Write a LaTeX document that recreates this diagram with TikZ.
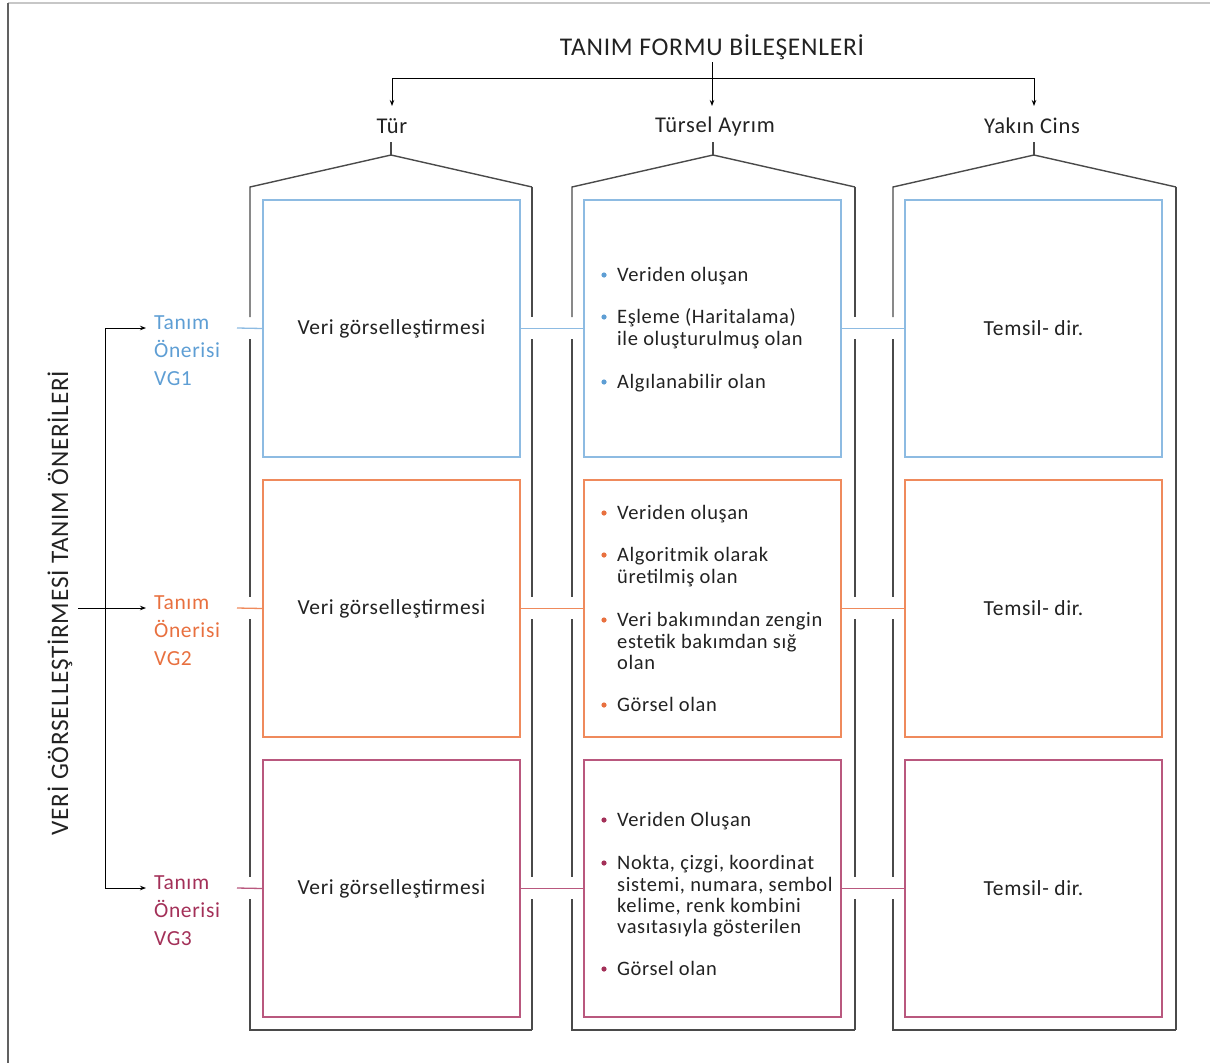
\documentclass[tikz,border=0pt]{standalone}
\usepackage{fontspec}
\setmainfont{Carlito}[LetterSpace=3]
\usetikzlibrary{arrows.meta}

\definecolor{inkc}{HTML}{222222}
\definecolor{brkc}{HTML}{4A4A4A}
\definecolor{bluebox}{HTML}{8DBBE2}
\definecolor{bluetxt}{HTML}{5E9ED4}
\definecolor{orabox}{HTML}{EF8A5C}
\definecolor{oratxt}{HTML}{E8703F}
\definecolor{marbox}{HTML}{B9587E}
\definecolor{martxt}{HTML}{A33058}

% one line of a bullet list: x, baseline y, name, text
\newcommand\listline[4]{\node[txt, anchor=base west] (#3) at (#1,#2) {#4};}
% bullet dot in front of a first line: baseline y, colour
\newcommand\listdot[2]{\fill[#2] (604,#1-6) circle (2.6pt);}

\begin{document}
\begin{tikzpicture}[x=1pt, y=-1pt,
  txt/.style={inner sep=0pt, font=\fontsize{20.5}{21.5}\selectfont, text=inkc},
  brk/.style={draw=brkc, line width=1.4pt},
  rowbox/.style={draw, line width=1.3pt, minimum width=257pt, minimum height=257pt,
    inner sep=0pt, font=\fontsize{21.5}{24}\selectfont, text=inkc},
  arr/.style={draw=black, line width=0.9pt, -{Stealth[length=6pt,width=4.5pt]}},
  plainline/.style={draw=black, line width=0.9pt},
  lbl/.style={inner sep=0pt, anchor=base west, font=\fontsize{21.5}{24}\selectfont},
  head/.style={inner sep=0pt, font=\fontsize{22.5}{26}\selectfont, text=inkc},
  conn/.style={line width=1.3pt}]
\useasboundingbox (0,0) rectangle (1210,1063);

% outer frame
\draw[draw=black!22, line width=1.6pt] (8,3) -- (1210,3);
\draw[draw=black!62, line width=1.6pt] (8,3) -- (8,1063);

% header and its three branches
\node[inner sep=0pt, font=\fontsize{25.5}{28}\selectfont, text=inkc] (title) at (712,47) {TANIM FORMU BİLEŞENLERİ};
\coordinate (hub) at (712,78);
\coordinate (hl) at (392,78);
\coordinate (hr) at (1034,78);
\coordinate (a1) at (392,106);
\coordinate (a2) at (712,106);
\coordinate (a3) at (1034,106);
\draw[plainline] (712,62) -- (hub);
\draw[plainline] (hl) -- (hr);
\draw[arr] (hl) -- (a1);
\draw[arr] (hub) -- (a2);
\draw[arr] (hr) -- (a3);
\node[head] (tur) at (392,126) {Tür};
\node[head] (tursel) at (715,126) {Türsel Ayrım};
\node[head] (yakin) at (1032,126) {Yakın Cins};

% column brackets (broken where the row connectors pass)
\draw[brk] (391,142) -- (391,155);
\draw[brk] (713,142) -- (713,155);
\draw[brk] (1034,142) -- (1034,155);
\foreach \L/\R/\P in {250/532/391, 572/855/713, 893/1176/1034}{
  \draw[brk] (\L,317) -- (\L,187) -- (\P,155) -- (\R,187);
  \draw[brk] (\L,339) -- (\L,597);
  \draw[brk] (\L,619) -- (\L,877);
  \draw[brk] (\L,899) -- (\L,1030) -- (\R,1030);
}
\foreach \R in {532, 855}{
  \draw[brk] (\R,187) -- (\R,317);
  \draw[brk] (\R,339) -- (\R,597);
  \draw[brk] (\R,619) -- (\R,877);
  \draw[brk] (\R,899) -- (\R,1030);
}
\draw[brk] (1176,187) -- (1176,1030);

% row boxes
\node[rowbox, draw=bluebox] (b11) at (391.5,328.5) {Veri görselleştirmesi};
\node[rowbox, draw=bluebox] (b12) at (712.5,328.5) {};
\node[rowbox, draw=bluebox] (b13) at (1033.5,328.5) {Temsil- dir.};
\node[rowbox, draw=orabox] (b21) at (391.5,608.5) {Veri görselleştirmesi};
\node[rowbox, draw=orabox] (b22) at (712.5,608.5) {};
\node[rowbox, draw=orabox] (b23) at (1033.5,608.5) {Temsil- dir.};
\node[rowbox, draw=marbox] (b31) at (391.5,888.5) {Veri görselleştirmesi};
\node[rowbox, draw=marbox] (b32) at (712.5,888.5) {};
\node[rowbox, draw=marbox] (b33) at (1033.5,888.5) {Temsil- dir.};

% bullet lists
\listdot{281}{bluetxt}\listline{617}{281}{l1a}{Veriden oluşan}
\listdot{323}{bluetxt}\listline{617}{323}{l1b}{Eşleme (Haritalama)}
\listline{617}{345}{l1c}{ile oluşturulmuş olan}
\listdot{388}{bluetxt}\listline{617}{388}{l1d}{Algılanabilir olan}

\listdot{519}{oratxt}\listline{617}{519}{l2a}{Veriden oluşan}
\listdot{561}{oratxt}\listline{617}{561}{l2b}{Algoritmik olarak}
\listline{617}{583}{l2c}{üretilmiş olan}
\listdot{626}{oratxt}\listline{617}{626}{l2d}{Veri bakımından zengin}
\listline{617}{648}{l2e}{estetik bakımdan sığ}
\listline{617}{669}{l2f}{olan}
\listdot{711}{oratxt}\listline{617}{711}{l2g}{Görsel olan}

\listdot{826}{martxt}\listline{617}{826}{l3a}{Veriden Oluşan}
\listdot{869}{martxt}\listline{617}{869}{l3b}{Nokta, çizgi, koordinat}
\listline{617}{891}{l3c}{sistemi, numara, sembol}
\listline{617}{912}{l3d}{kelime, renk kombini}
\listline{617}{933}{l3e}{vasıtasıyla gösterilen}
\listdot{975}{martxt}\listline{617}{975}{l3f}{Görsel olan}

% proposal labels
\node[lbl, text=bluetxt] (p1a) at (154,329) {Tanım};
\node[lbl, text=bluetxt] (p1b) at (154,357) {Önerisi};
\node[lbl, text=bluetxt] (p1c) at (154,385) {VG1};
\node[lbl, text=oratxt] (p2a) at (154,609) {Tanım};
\node[lbl, text=oratxt] (p2b) at (154,637) {Önerisi};
\node[lbl, text=oratxt] (p2c) at (154,665) {VG2};
\node[lbl, text=martxt] (p3a) at (154,889) {Tanım};
\node[lbl, text=martxt] (p3b) at (154,917) {Önerisi};
\node[lbl, text=martxt] (p3c) at (154,945) {VG3};

% row connectors
\coordinate (c1) at (237,328);
\coordinate (c2) at (237,608);
\coordinate (c3) at (237,888);
\draw[conn, bluebox] (c1) -- (b11.west);
\draw[conn, bluebox] (b11.east) -- (b12.west);
\draw[conn, bluebox] (b12.east) -- (b13.west);
\draw[conn, orabox] (c2) -- (b21.west);
\draw[conn, orabox] (b21.east) -- (b22.west);
\draw[conn, orabox] (b22.east) -- (b23.west);
\draw[conn, marbox] (c3) -- (b31.west);
\draw[conn, marbox] (b31.east) -- (b32.west);
\draw[conn, marbox] (b32.east) -- (b33.west);

% vertical side title and its arrows
\node[inner sep=0pt, rotate=90, font=\fontsize{25.2}{28}\selectfont, text=inkc] (side) at (60,603)
  {VERİ GÖRSELLEŞTİRMESİ TANIM ÖNERİLERİ};
\coordinate (s0) at (78,608);
\coordinate (vt) at (105,328);
\coordinate (vb) at (105,888);
\coordinate (e1) at (146,328);
\coordinate (e2) at (146,608);
\coordinate (e3) at (146,888);
\draw[arr] (vb) -- (vt) -- (e1);
\draw[arr] (vb) -- (e3);
\draw[arr] (s0) -- (e2);
\end{tikzpicture}
\end{document}
